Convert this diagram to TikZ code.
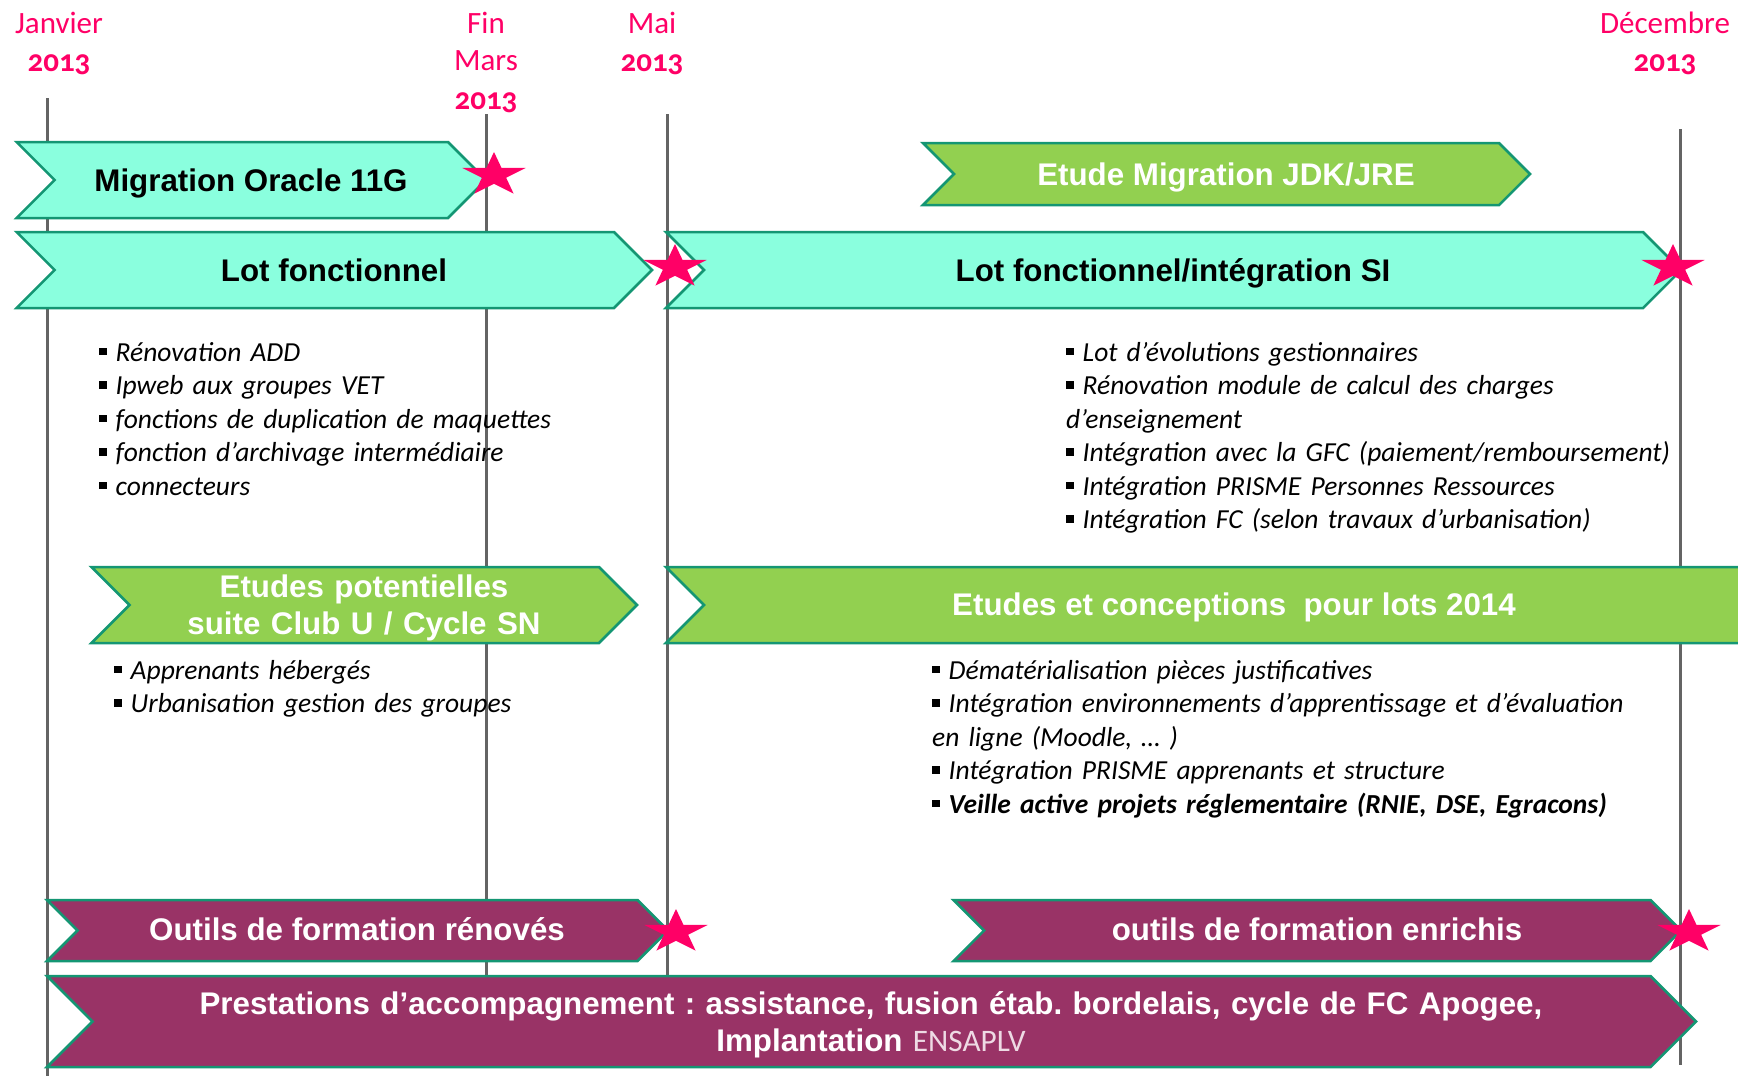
\documentclass[tikz,border=0pt]{standalone}
\usepackage{fontspec}
\setmainfont{Liberation Sans}
\newfontfamily\calib{Carlito}
\newfontfamily\calibos[Numbers=OldStyle]{Carlito}
\usetikzlibrary{positioning}
\frenchspacing
\definecolor{rose}{RGB}{255,0,102}
\definecolor{turquoise}{RGB}{138,255,222}
\definecolor{vert}{RGB}{146,208,80}
\definecolor{prune}{RGB}{153,51,102}
\definecolor{bordure}{RGB}{20,150,115}
\definecolor{gristrait}{RGB}{100,100,100}
\definecolor{pale}{RGB}{238,218,228}
\tikzset{node distance=38pt, auto,
  mois/.style={text=rose, font=\calib\fontsize{31}{37}\selectfont, inner sep=0pt, anchor=base},
  annee/.style={text=rose, font=\calibos\bfseries\fontsize{31}{37}\selectfont, inner sep=0pt},
  ligne/.style={draw=gristrait, line width=3pt},
  bord/.style={draw=bordure, line width=2.5pt, line join=miter},
  titre/.style={font=\bfseries\fontsize{31.3}{37.5}\selectfont, anchor=base, inner sep=0pt, align=center},
  liste/.style={font=\calib\itshape\fontsize{27.5}{33.5}\selectfont, anchor=base west, inner sep=0pt, align=left, text width=780pt},
  etoile/.pic={\fill[rose, xscale=1.45] (-90:23) \foreach \a/\r in {-54/8.8,-18/23,18/8.8,54/23,90/8.8,126/23,162/8.8,198/23,234/8.8} {-- (\a:\r)} -- cycle;}
}
% fill, left, tip, top, bottom
\newcommand{\fleche}[5]{%
  \draw[bord, fill=#1] (#2,#4) -- ({#3-(#5-#4)/2},#4) -- (#3,{(#4+#5)/2}) -- ({#3-(#5-#4)/2},#5) -- (#2,#5) -- ({#2+(#5-#4)/2},{(#4+#5)/2}) -- cycle;}
\newcommand{\puce}{\rule[5.7pt]{7.5pt}{7.5pt}\hspace{9pt}}

\begin{document}
\begin{tikzpicture}[x=1pt, y=-1pt]
\useasboundingbox (0,0) rectangle (1738,1076);

% dates
\node[mois] (jan) at (59,33) {Janvier};
\node[annee] (jan13) [below=38pt of jan.base, anchor=base] {2013};
\node[mois] (fin) at (486,33) {Fin};
\node[mois] (mars) [below=37pt of fin.base, anchor=base] {Mars};
\node[annee] (mars13) [below=39pt of mars.base, anchor=base] {2013};
\node[mois] (mai) at (652,33) {Mai};
\node[annee] (mai13) [below=38pt of mai.base, anchor=base] {2013};
\node[mois] (dec) at (1665,33) {Décembre};
\node[annee] (dec13) [below=38pt of dec.base, anchor=base] {2013};

% jalons
\coordinate (janH) at (47,98);
\coordinate (janB) at (47,1076);
\coordinate (marsH) at (486,114);
\coordinate (marsB) at (486,1000);
\coordinate (maiH) at (667,114);
\coordinate (maiB) at (667,1000);
\coordinate (decH) at (1680,129);
\coordinate (decB) at (1680,1065);
\draw[ligne] (janH) -- (janB);
\draw[ligne] (marsH) -- (marsB);
\draw[ligne] (maiH) -- (maiB);
\draw[ligne] (decH) -- (decB);

% lots
\fill[white] (16.6,142) rectangle (56,218);
\fill[white] (16.6,232) rectangle (56,308);
\fleche{turquoise}{16.6}{486}{142}{218}
\fleche{turquoise}{16.6}{652}{232}{308}
\fleche{vert}{923}{1530}{143}{205}
\fleche{turquoise}{666}{1681}{232}{308}
\fleche{vert}{91.5}{637}{567}{643}
\fleche{vert}{666}{1802}{567}{643}
\fleche{prune}{47}{668}{900}{961}
\fleche{prune}{953.5}{1681}{900}{961}
\fleche{prune}{47}{1696}{976}{1067}

\node[titre] (mig) at (251,191) {Migration Oracle 11G};
\node[titre] (lot) at (334,281) {Lot fonctionnel};
\node[titre, text=white] (jdk) at (1226,185) {Etude Migration JDK/JRE};
\node[titre] (lotsi) at (1173,281) {Lot fonctionnel/intégration SI};
\node[titre, text=white, text width=600pt] (pot) at (364,597) {Etudes potentielles\\suite Club U / Cycle SN};
\node[titre, text=white] (conc) at (1234,615) {Etudes et conceptions~ pour lots 2014};
\node[titre, text=white] (outr) at (357,940) {Outils de formation rénovés};
\node[titre, text=white] (oute) at (1317,940) {outils de formation enrichis};
\node[titre, text=white, text width=1600pt] (prest) at (871,1014) {Prestations d’accompagnement : assistance, fusion étab. bordelais, cycle de FC Apogee,\\Implantation {\calib\mdseries\color{pale}ENSAPLV}};

% contenus
\node[liste] (l1) at (99,361) {\puce Rénovation ADD\\\puce Ipweb aux groupes VET\\\puce fonctions de duplication de maquettes\\\puce fonction d’archivage intermédiaire\\\puce connecteurs};
\node[liste] (l2) at (1066,361) {\puce Lot d’évolutions gestionnaires\\\puce Rénovation module de calcul des charges\\d’enseignement\\\puce Intégration avec la GFC (paiement/remboursement)\\\puce Intégration PRISME Personnes Ressources\\\puce Intégration FC (selon travaux d’urbanisation)};
\node[liste] (l3) at (114,679) {\puce Apprenants hébergés\\\puce Urbanisation gestion des groupes};
\node[liste] (l4) at (932,679) {\puce Dématérialisation pièces justificatives\\\puce Intégration environnements d’apprentissage et d’évaluation\\en ligne (Moodle, … )\\\puce Intégration PRISME apprenants et structure\\\puce \textbf{Veille active projets réglementaire (RNIE, DSE, Egracons)}};

% etoiles
\pic (s1) at (494,175) {etoile};
\pic (s2) at (675,267) {etoile};
\pic (s3) at (1673,267) {etoile};
\pic (s4) at (676,932) {etoile};
\pic (s5) at (1689,932) {etoile};
\end{tikzpicture}
\end{document}
